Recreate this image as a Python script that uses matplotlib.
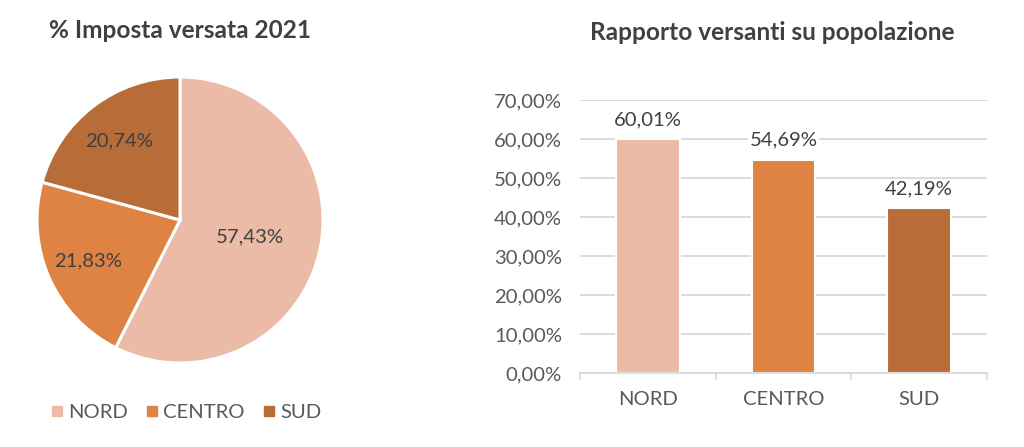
"""
Imposta versata 2021 — pie share by area plus ratio of taxpayers to population.
"""
import numpy as np
import matplotlib
matplotlib.use("Agg")
import matplotlib.pyplot as plt
from matplotlib.lines import Line2D
from matplotlib.ticker import FuncFormatter, FixedLocator

plt.rcParams["font.family"] = ["Lato", "DejaVu Sans"]

areas = ["NORD", "CENTRO", "SUD"]
quota_imposta = [57.43, 21.83, 20.74]          # % imposta versata 2021
rapporto_versanti = [60.01, 54.69, 42.19]      # % versanti su popolazione
colori = ["#EBBBA7", "#DE8344", "#B86C38"]

TEXT = "#404040"
AXIS_TEXT = "#595959"
GRID = "#D9D9D9"
FS = 14.6

W, H = 1024, 447
fig = plt.figure(figsize=(W / 100, H / 100), dpi=100)

# --- pie ---
cx, cy, r = 180, 220, 143
ax_pie = fig.add_axes([(cx - r) / W, (H - cy - r) / H, 2 * r / W, 2 * r / H])
wedges, _ = ax_pie.pie(quota_imposta, colors=colori, startangle=90, counterclock=False,
                       wedgeprops=dict(edgecolor="white", linewidth=2.2))
ax_pie.set_xlim(-1, 1)
ax_pie.set_ylim(-1, 1)
ax_pie.set_aspect("equal")

dist = [0.5, 0.7, 0.7]
for w, v, d in zip(wedges, quota_imposta, dist):
    ang = np.deg2rad((w.theta1 + w.theta2) / 2)
    ax_pie.text(d * np.cos(ang), d * np.sin(ang), f"{v:.2f}%".replace(".", ","),
                ha="center", va="center", fontsize=FS, color=TEXT)

fig.text(cx / W, 1 - 30 / H, "% Imposta versata 2021", ha="center", va="center",
         fontsize=17.6, fontweight="bold", color=TEXT)

handles = [Line2D([], [], marker="s", linestyle="none", markersize=7,
                  markerfacecolor=c, markeredgecolor=c) for c in colori]
fig.legend(handles, areas, loc="center", bbox_to_anchor=(186 / W, 1 - 412 / H),
           ncol=3, frameon=False, fontsize=FS, labelcolor=AXIS_TEXT,
           handlelength=0.6, handletextpad=0.25, columnspacing=0.9)

# --- bar ---
x0, x1, y_top, y_bot = 580, 987, 100, 373
ax_bar = fig.add_axes([x0 / W, (H - y_bot) / H, (x1 - x0) / W, (y_bot - y_top) / H])
xs = np.arange(len(areas))
ax_bar.bar(xs, rapporto_versanti, width=0.47, color=colori, edgecolor="white",
           linewidth=1.5, zorder=2)
ax_bar.set_xlim(-0.5, len(areas) - 0.5)
ax_bar.set_ylim(0, 70)
ax_bar.set_yticks(np.arange(0, 71, 10))
ax_bar.yaxis.set_major_formatter(FuncFormatter(lambda v, _: f"{v:.2f}%".replace(".", ",")))
ax_bar.set_xticks(xs)
ax_bar.set_xticklabels(areas)
ax_bar.xaxis.set_minor_locator(FixedLocator(np.arange(-0.5, len(areas), 1.0)))
ax_bar.tick_params(axis="x", which="major", length=0, pad=13, labelsize=FS, labelcolor=AXIS_TEXT)
ax_bar.tick_params(axis="x", which="minor", length=5, width=1.2, color=GRID, direction="out")
ax_bar.tick_params(axis="y", length=0, pad=13, labelsize=FS, labelcolor=AXIS_TEXT)
ax_bar.grid(axis="y", color=GRID, linewidth=1.3, zorder=0)
ax_bar.set_axisbelow(True)
for s in ["top", "right", "left"]:
    ax_bar.spines[s].set_visible(False)
ax_bar.spines["bottom"].set_color(GRID)
ax_bar.spines["bottom"].set_linewidth(1.3)

for x, v in zip(xs, rapporto_versanti):
    ax_bar.annotate(f"{v:.2f}%".replace(".", ","), (x, v), xytext=(0, 14),
                    textcoords="offset points", ha="center", va="center",
                    fontsize=FS, color=TEXT, zorder=3,
                    bbox=dict(facecolor="white", edgecolor="none", pad=1))

fig.text(772 / W, 1 - 32 / H, "Rapporto versanti su popolazione", ha="center", va="center",
         fontsize=17.6, fontweight="bold", color=TEXT)

fig.savefig("out.png", dpi=100)
plt.close(fig)
